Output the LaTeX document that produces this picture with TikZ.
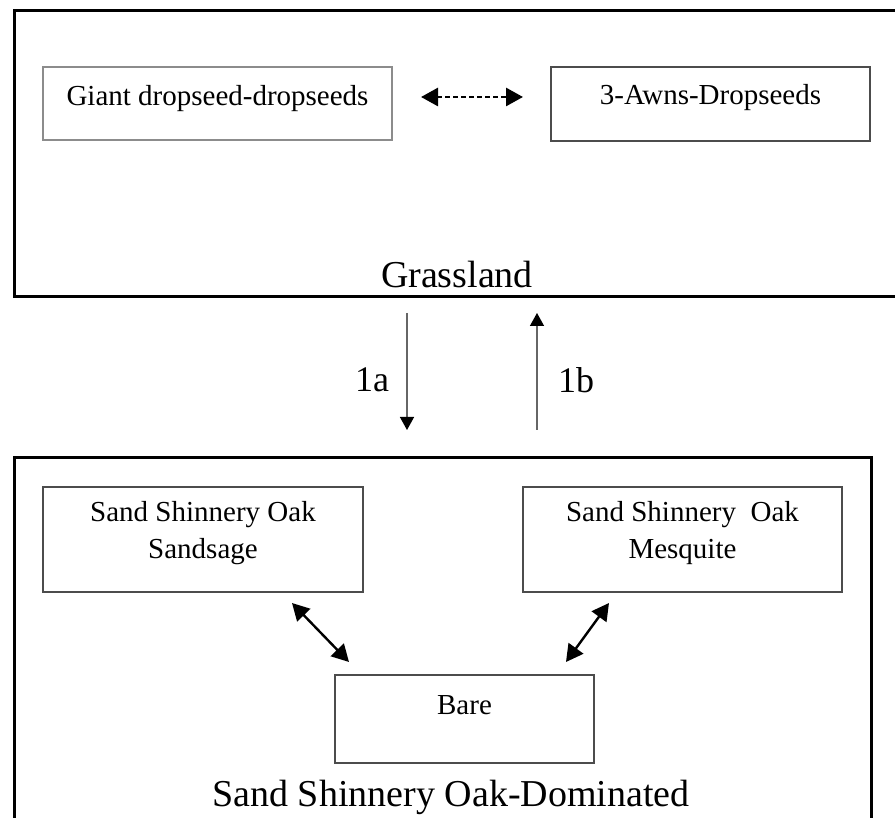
\documentclass[tikz,border=0pt]{standalone}
\usepackage{fontspec}
\setmainfont{Liberation Serif}
\usetikzlibrary{arrows.meta}
\begin{document}
\begin{tikzpicture}[x=1pt,y=-1pt,
  statebox/.style={draw=black!70, line width=1.6pt, inner sep=0pt},
  statetext/.style={inner sep=0pt, align=center, font=\fontsize{29}{37}\selectfont},
  biglabel/.style={font=\fontsize{38}{44}\selectfont, inner sep=0pt},
  numlabel/.style={font=\fontsize{36}{40}\selectfont, inner sep=0pt},
  trans/.style={draw=black!60, line width=1.4pt, -{Triangle[length=13pt,width=14pt,color=black]}},
  dbl/.style={draw=black, line width=2.4pt, {Triangle[length=17pt,width=18pt]}-{Triangle[length=17pt,width=18pt]}}
]
\useasboundingbox (0,0) rectangle (895,818);
% outer boxes
\draw[line width=3pt] (14,11) rectangle (915,297);
\draw[line width=3pt] (14,458) rectangle (871,840);
\node[biglabel] (grass) at (457,275) {Grassland};
\node[biglabel] (ssod) at (451,797) {Sand Shinnery Oak-Dominated};
% grassland states
\node[statebox, draw=black!45, minimum width=349pt, minimum height=73pt] (giant) at (217.5,103.5) {};
\node[statetext] (giantt) at ([yshift=5pt]giant.center) {Giant dropseed-dropseeds};
\node[statebox, minimum width=319pt, minimum height=74pt] (awns) at (710.5,104) {};
\node[statetext] (awnst) at ([yshift=6pt]awns.center) {3-Awns-Dropseeds};
\coordinate (g1) at (421,97);
\coordinate (a1) at (523,97);
\draw[dbl, line width=2.8pt, dash pattern=on 5pt off 3pt] (g1) -- (a1);
% transitions
\coordinate (t1s) at (407,313);
\coordinate (t1e) at (407,430);
\coordinate (t2s) at (537,430);
\coordinate (t2e) at (537,313);
\draw[trans] (t1s) -- (t1e);
\draw[trans] (t2s) -- (t2e);
\node[numlabel] (la) at (372,380) {1a};
\node[numlabel] (lb) at (576,380) {1b};
% shinnery states
\node[statebox, minimum width=320pt, minimum height=105pt] (sage) at (203,539.5) {};
\node[statetext] (saget) at ([yshift=6pt]sage.center) {Sand Shinnery Oak\\Sandsage};
\node[statebox, minimum width=319pt, minimum height=105pt] (mesq) at (682.5,539.5) {};
\node[statetext] (mesqt) at ([yshift=6pt]mesq.center) {Sand Shinnery~ Oak\\Mesquite};
\node[statebox, minimum width=259pt, minimum height=88pt] (bare) at (464.5,719) {};
\node[statetext] (baret) at ([yshift=14pt]bare.center) {Bare};
\coordinate (s1) at (292,603);
\coordinate (b1) at (349,662);
\coordinate (m1) at (609,603);
\coordinate (b2) at (566,662);
\draw[dbl] (s1) -- (b1);
\draw[dbl] (m1) -- (b2);
\end{tikzpicture}
\end{document}
